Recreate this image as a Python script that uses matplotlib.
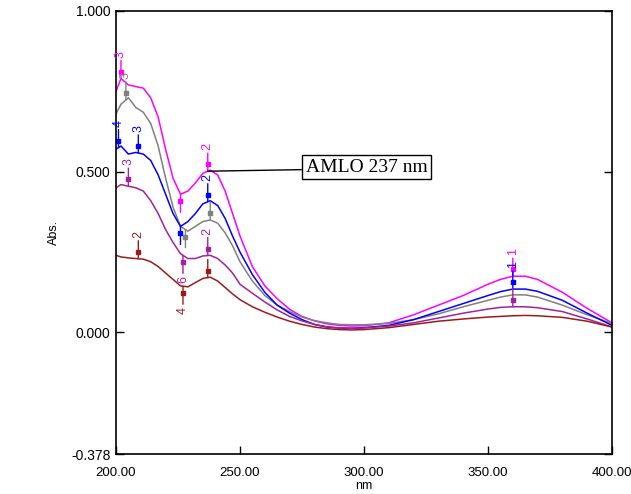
import numpy as np
import matplotlib
matplotlib.use("Agg")
import matplotlib.pyplot as plt
from matplotlib.transforms import offset_copy

# wavelength grid (nm) and absorbance
wl = [200, 202, 205, 208, 211, 214, 217, 220, 223, 226, 229, 232, 235, 238,
      241, 244, 247, 250, 255, 260, 265, 270, 275, 280, 285, 290, 295, 300,
      310, 320, 330, 340, 350, 355, 360, 365, 370, 380, 390, 400]

magenta = [0.75, 0.79, 0.77, 0.765, 0.76, 0.73, 0.67, 0.57, 0.48, 0.43, 0.44, 0.465, 0.495, 0.505,
           0.49, 0.44, 0.37, 0.30, 0.205, 0.145, 0.105, 0.072, 0.05, 0.036, 0.027, 0.022, 0.02, 0.021,
           0.03, 0.055, 0.085, 0.115, 0.15, 0.165, 0.175, 0.175, 0.165, 0.125, 0.075, 0.03]
grey = [0.68, 0.71, 0.73, 0.70, 0.685, 0.65, 0.58, 0.48, 0.39, 0.33, 0.315, 0.33, 0.345, 0.35,
        0.34, 0.31, 0.27, 0.22, 0.16, 0.115, 0.085, 0.065, 0.048, 0.037, 0.03, 0.025, 0.024, 0.024,
        0.028, 0.04, 0.058, 0.08, 0.10, 0.11, 0.117, 0.117, 0.11, 0.085, 0.055, 0.028]
blue = [0.57, 0.58, 0.555, 0.56, 0.555, 0.535, 0.49, 0.43, 0.37, 0.33, 0.345, 0.37, 0.40, 0.41,
        0.395, 0.355, 0.30, 0.25, 0.18, 0.125, 0.085, 0.06, 0.04, 0.025, 0.017, 0.014, 0.013, 0.015,
        0.022, 0.04, 0.065, 0.09, 0.115, 0.127, 0.135, 0.135, 0.128, 0.10, 0.06, 0.022]
purple = [0.45, 0.46, 0.455, 0.45, 0.44, 0.41, 0.37, 0.32, 0.28, 0.245, 0.23, 0.23, 0.238, 0.24,
          0.23, 0.21, 0.185, 0.15, 0.122, 0.095, 0.07, 0.05, 0.036, 0.025, 0.018, 0.014, 0.013, 0.014,
          0.02, 0.03, 0.045, 0.06, 0.073, 0.078, 0.08, 0.08, 0.077, 0.065, 0.042, 0.017]
darkred = [0.24, 0.235, 0.232, 0.23, 0.228, 0.22, 0.205, 0.185, 0.165, 0.145, 0.142, 0.155, 0.168, 0.172,
           0.16, 0.14, 0.12, 0.102, 0.08, 0.063, 0.048, 0.035, 0.025, 0.017, 0.012, 0.009, 0.008, 0.009,
           0.015, 0.025, 0.035, 0.042, 0.048, 0.05, 0.052, 0.053, 0.052, 0.047, 0.035, 0.017]

series = [
    ("magenta", "#ff00ff", magenta),
    ("grey", "#808080", grey),
    ("blue", "#0000ff", blue),
    ("purple", "#a0229f", purple),
    ("darkred", "#9b1b1b", darkred),
]

# peak pick marks: (series, wavelength, label, up)
picks = [
    ("magenta", 202, "3", True), ("magenta", 237, "2", True),
    ("magenta", 226, "", False), ("magenta", 360, "1", True),
    ("grey", 204, "3", True), ("grey", 238, "", True), ("grey", 228, "", False),
    ("blue", 201, "4", True), ("blue", 209, "3", True), ("blue", 237, "2", True),
    ("blue", 226, "", False), ("blue", 360, "1", True),
    ("purple", 205, "3", True), ("purple", 237, "2", True), ("purple", 227, "6", False),
    ("purple", 360, "", True),
    ("darkred", 209, "2", True), ("darkred", 237, "", True), ("darkred", 227, "4", False),
]

yticks = [-0.378, 0.0, 0.5, 1.0]
xticks = [200, 250, 300, 350, 400]

plt.rcParams['font.family'] = ['Liberation Sans', 'DejaVu Sans']

fig = plt.figure(figsize=(6.31, 4.94), dpi=100)
ax = fig.add_axes([116 / 631, 1 - 454 / 494, 496 / 631, 443 / 494])

colors = {}
data = {}
for name, c, vals in series:
    colors[name] = c
    data[name] = vals
    ax.plot(wl, vals, color=c, lw=1.1)


def pick(name, x, label, up):
    c = colors[name]
    y = np.interp(x, wl, data[name])
    s = 1 if up else -1
    ax.annotate('', xy=(x, y), xytext=(0, s * 13), textcoords='offset points',
                arrowprops=dict(arrowstyle='-', color=c, lw=1, shrinkA=0, shrinkB=0))
    tr = offset_copy(ax.transData, fig=fig, x=0, y=s * 5, units='points')
    ax.plot([x], [y], marker='s', ms=3, color=c, transform=tr)
    if label:
        ax.annotate(label, xy=(x, y), xytext=(0, s * 15), textcoords='offset points',
                    rotation=90, color=c, ha='center', va='bottom' if up else 'top',
                    fontsize=9)


for p in picks:
    pick(*p)

# AMLO callout
y237 = np.interp(237, wl, magenta)
ax.annotate('AMLO 237 nm', xy=(237, y237), xytext=(276.5, y237 + 0.013),
            textcoords='data', va='center', ha='left', fontsize=14,
            family=['Liberation Serif', 'DejaVu Serif'],
            bbox=dict(boxstyle='square,pad=0.2', fc='white', ec='black', lw=1),
            arrowprops=dict(arrowstyle='-', color='black', lw=1, shrinkA=0, shrinkB=0,
                            relpos=(0, 0.35)))

ax.set_xlim(200, 400)
ax.set_ylim(-0.378, 1.0)
ax.set_xticks(xticks)
ax.set_xticklabels(['%.2f' % v for v in xticks])
ax.set_yticks(yticks)
ax.set_yticklabels(['%.3f' % v for v in yticks])
ax.tick_params(direction='in', length=6, width=1, labelsize=10, right=True, pad=4)
ax.tick_params(axis='x', pad=9, labelsize=9.5)
for sp in ax.spines.values():
    sp.set_linewidth(1.2)

ax.set_ylabel('Abs.', fontsize=9, labelpad=8)
ax.set_xlabel('nm', fontsize=9, labelpad=1)

fig.savefig('out.png', dpi=100)
